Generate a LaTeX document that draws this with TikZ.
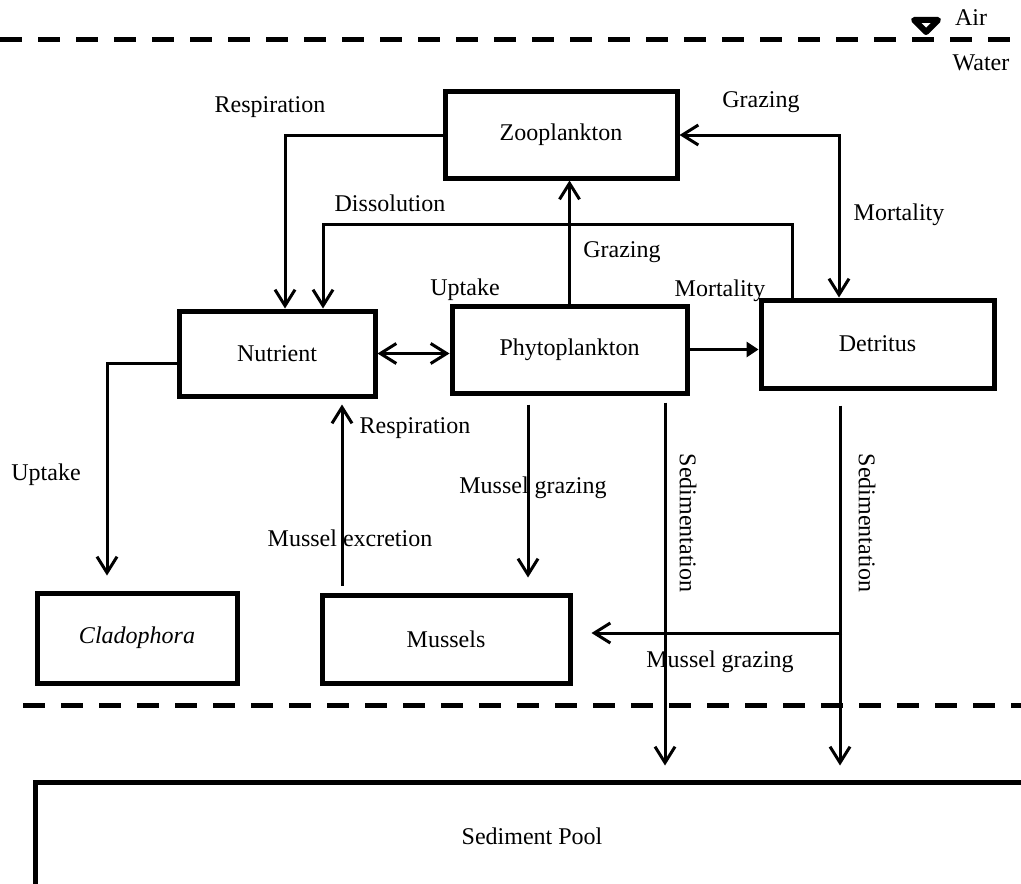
\documentclass[tikz,border=0pt]{standalone}
\usepackage{fontspec}
\setmainfont{Liberation Serif}
\usetikzlibrary{arrows.meta,calc}

\begin{document}
\begin{tikzpicture}[x=0.5pt, y=-0.5pt,
    font=\fontsize{12}{14}\selectfont,
    box/.style={draw, line width=2.5pt, rectangle},
    flow/.style={line width=1.5pt, -{Straight Barb[length=8pt, width=10pt]}},
    both/.style={line width=1.5pt, {Straight Barb[length=8pt, width=10pt]}-{Straight Barb[length=8pt, width=10pt]}},
    surface/.style={line width=2.5pt, dash pattern=on 11pt off 8pt}]

  \useasboundingbox (0,0) rectangle (1021,883);

  % Water surface and sediment surface
  \draw[surface] (0,40) -- (1021,40);
  \draw[surface] (23,705) -- (1021,705);
  \draw[line width=3pt, line join=round] (914,20) -- (938,20) -- (926,32) -- cycle;
  \node (air) at (971,18) {Air};
  \node (water) at (981,63) {Water};

  % Compartments
  \node[box, minimum width=116pt, minimum height=43pt] (zoo) at (561,135) {Zooplankton};
  \node[box, minimum width=98pt, minimum height=42.5pt] (nut) at (277,353.5) {Nutrient};
  \node[box, minimum width=117.5pt, minimum height=43.5pt] (phy) at (569.5,349.5) {Phytoplankton};
  \node[box, minimum width=116.5pt, minimum height=44pt] (det) at (877.5,344) {Detritus};
  \node[box, minimum width=100pt, minimum height=45pt] (cla) at (137,638) {\textit{Cladophora}};
  \node[box, minimum width=124pt, minimum height=44pt] (mus) at (446,639) {Mussels};
  \node[box, minimum width=497pt, minimum height=54pt] (sed) at (532,836) {Sediment Pool};

  % Bends
  \coordinate (disbend) at (323,224);
  \coordinate (musgraze) at (842,633);

  % Fluxes
  \draw[flow] (zoo.west) -| ($(nut.north)+(8,0)$);
  \draw[flow] ($(det.north)+(-85.5,0)$) |- (disbend) -- ($(nut.north)+(46,0)$);
  \draw[flow] (phy.north) -- (phy.north |- zoo.south);
  \draw[both] (zoo.east) -| ($(det.north)+(-38.5,0)$);
  \draw[both] (nut.east) -- (nut.east -| phy.west);
  \draw[line width=1.5pt, -{Triangle[length=6pt, width=7.5pt]}] (phy.east) -- (phy.east -| det.west);
  \draw[flow] ($(nut.west)+(0,9.5)$) -| ($(cla.north)+(-30,-15)$);
  \draw[flow] ($(mus.north)+(-104,-7)$) -- ($(nut.south)+(65,6)$);
  \draw[flow] ($(phy.south)+(-41.5,9)$) -- ($(mus.north)+(82,-15)$);
  \draw[flow] ($(phy.south)+(95.5,7)$) -- ($(sed.north)+(133,-14)$);
  \draw[flow] ($(det.south)+(-37.5,15)$) -- ($(sed.north)+(308,-14)$);
  \draw[flow] (musgraze) -- ($(mus.east)+(19,-6)$);

  % Flux labels
  \node (lresp) at (270,107) {Respiration};
  \node (ldis) at (390,203) {Dissolution};
  \node (lgraze) at (622,252) {Grazing};
  \node (lzgraze) at (761,102) {Grazing};
  \node (lzmort) at (899,215) {Mortality};
  \node (lup) at (465,290) {Uptake};
  \node (lpmort) at (720,291) {Mortality};
  \node (lclaup) at (46,475) {Uptake};
  \node (lmresp) at (415,428) {Respiration};
  \node (lexcr) at (350,538) {Mussel excretion};
  \node (lmgraze) at (533,488) {Mussel grazing};
  \node (ldgraze) at (720,662) {Mussel grazing};
  \node[rotate=-90] (lsed1) at (688,523) {Sedimentation};
  \node[rotate=-90] (lsed2) at (867,523) {Sedimentation};

\end{tikzpicture}
\end{document}
